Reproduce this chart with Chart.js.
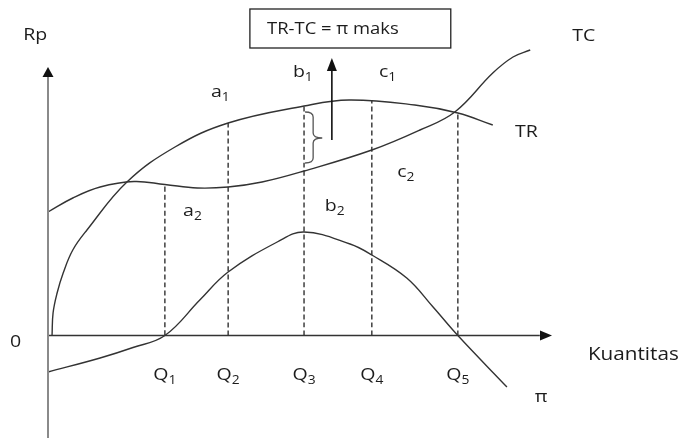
<!DOCTYPE html>
<html>
<head>
<meta charset="utf-8">
<script src="https://cdn.jsdelivr.net/npm/chart.js@4.4.1/dist/chart.umd.min.js"></script>
<style>
  html, body { margin: 0; padding: 0; background: #fff; }
  #wrap { position: relative; width: 681px; height: 438px; }
</style>
</head>
<body>
<div id="wrap"><canvas id="grafik"></canvas></div>
<script>
// jumlah (Q) pada sumbu mendatar
const kuantitas = [2.31, 3.56, 5.06, 6.4, 8.1];
const labelQ = ['Q1', 'Q2', 'Q3', 'Q4', 'Q5'];
// tinggi garis putus-putus (sampai kurva TC / TR)
const batasAtas = [6.02, 8.5, 9.18, 9.4, 8.9];

// kurva TR
const trX = [0.08, 0.1, 0.18, 0.3, 0.49, 0.77, 1.56, 2.51, 3.56, 5.06, 5.95, 7.25, 8.1, 8.79];
const trY = [0, 0.9, 1.7, 2.5, 3.42, 4.22, 6.14, 7.54, 8.5, 9.18, 9.42, 9.22, 8.9, 8.42];

// kurva TC
const tcX = [0, 0.49, 1.03, 1.7, 2.31, 2.95, 3.56, 4.23, 5.06, 6.4, 7.35, 8.04, 8.79, 9.19, 9.53];
const tcY = [4.94, 5.5, 5.94, 6.16, 6.04, 5.9, 5.94, 6.14, 6.58, 7.42, 8.22, 8.94, 10.5, 11.14, 11.42];

// kurva laba (pi)
const piX = [0, 1.03, 1.68, 2.31, 3.0, 3.56, 4.53, 5.06, 5.97, 6.4, 7.09, 7.61, 8.1, 9.07];
const piY = [-1.46, -0.9, -0.48, 0, 1.42, 2.54, 3.74, 4.14, 3.66, 3.22, 2.3, 1.14, 0, -2.06];

// batas skala (satuan diagram)
const X_MIN = -48 / 50.6, X_MAX = X_MIN + 681 / 50.6;
const Y_MAX = 335.5 / 25, Y_MIN = Y_MAX - 438 / 25;

const WARNA_KURVA = '#333';
const WARNA_TEKS = '#1c1c1c';
const FONT = '"Open Sans", sans-serif';
const LEBAR = 1.15; // teks asli sedikit melebar

const titik = (xs, ys) => xs.map((v, i) => ({ x: v, y: ys[i] }));

function garis(data, warna, tebal, dash) {
    return {
        data: data,
        borderColor: warna,
        borderWidth: tebal,
        borderDash: dash || [],
        pointRadius: 0,
        fill: false,
        clip: false,
        tension: 0.4
    };
}

const datasets = [
    garis([{ x: 0, y: Y_MIN }, { x: 0, y: 10.34 }], '#8a8a8a', 2),
    garis([{ x: 0, y: 0 }, { x: 9.72, y: 0 }], '#333', 1.6),
    garis(titik(trX, trY), WARNA_KURVA, 1.4),
    garis(titik(tcX, tcY), WARNA_KURVA, 1.4),
    garis(titik(piX, piY), WARNA_KURVA, 1.4)
];
kuantitas.forEach(function(q, i) {
    datasets.push(garis([{ x: q, y: 0 }, { x: q, y: batasAtas[i] }], '#222', 1.3, [5, 3]));
});

// label: [teks, subskrip, x, y(baseline)]
const label = [
    ['Rp', '', -0.49, 11.82],
    ['TC', '', 10.36, 11.78],
    ['TR', '', 9.23, 7.94],
    ['a', '1', 3.22, 9.54],
    ['b', '1', 4.84, 10.34],
    ['c', '1', 6.54, 10.34],
    ['c', '2', 6.9, 6.34],
    ['a', '2', 2.67, 4.78],
    ['b', '2', 5.47, 4.98],
    ['0', '', -0.75, -0.46],
    ['Kuantitas', '', 10.67, -0.98],
    ['\u03c0', '', 9.62, -2.66]
];

const diagram = {
    id: 'diagram',
    afterDatasetsDraw(chart) {
        const { ctx, scales: { x, y } } = chart;
        const px = v => x.getPixelForValue(v);
        const py = v => y.getPixelForValue(v);

        function teks(str, sub, xv, yv, ukuran, tengah) {
            ctx.save();
            ctx.fillStyle = WARNA_TEKS;
            ctx.font = ukuran + 'px ' + FONT;
            const w1 = ctx.measureText(str).width;
            ctx.font = Math.round(ukuran * 0.7) + 'px ' + FONT;
            const w2 = sub ? ctx.measureText(sub).width : 0;
            let x0 = px(xv);
            if (tengah) x0 -= (w1 + w2) * LEBAR / 2;
            ctx.translate(x0, py(yv));
            ctx.scale(LEBAR, 1);
            ctx.textBaseline = 'alphabetic';
            ctx.font = ukuran + 'px ' + FONT;
            ctx.fillText(str, 0, 0);
            if (sub) {
                ctx.font = Math.round(ukuran * 0.7) + 'px ' + FONT;
                ctx.fillText(sub, w1, 4);
            }
            ctx.restore();
        }

        function panah(xt, yt, arah, panjang, lebar) {
            ctx.beginPath();
            if (arah === 'atas') {
                ctx.moveTo(xt, yt);
                ctx.lineTo(xt - lebar, yt + panjang);
                ctx.lineTo(xt + lebar, yt + panjang);
            } else {
                ctx.moveTo(xt, yt);
                ctx.lineTo(xt - panjang, yt - lebar);
                ctx.lineTo(xt - panjang, yt + lebar);
            }
            ctx.closePath();
            ctx.fill();
        }

        ctx.save();
        ctx.fillStyle = '#111';
        // ujung sumbu
        panah(px(0), py(10.74), 'atas', 10, 5.5);
        panah(px(9.96), py(0), 'kanan', 12, 5);

        // panah ke kotak
        ctx.strokeStyle = '#111';
        ctx.lineWidth = 1.6;
        ctx.beginPath();
        ctx.moveTo(px(5.61), py(7.82));
        ctx.lineTo(px(5.61), py(10.6));
        ctx.stroke();
        panah(px(5.61), py(11.1), 'atas', 13, 5);

        // kurung kurawal
        const L = px(5.08), M = px(5.24), T = px(5.42);
        const yA = py(8.94), yT = py(7.9), yB = py(6.9);
        ctx.strokeStyle = '#555';
        ctx.lineWidth = 1.3;
        ctx.beginPath();
        ctx.moveTo(L, yA);
        ctx.quadraticCurveTo(M, yA, M, yA + 5);
        ctx.lineTo(M, yT - 5);
        ctx.quadraticCurveTo(M, yT, T, yT);
        ctx.quadraticCurveTo(M, yT, M, yT + 5);
        ctx.lineTo(M, yB - 5);
        ctx.quadraticCurveTo(M, yB, L, yB);
        ctx.stroke();

        // kotak keterangan
        ctx.strokeStyle = '#222';
        ctx.lineWidth = 1.3;
        ctx.strokeRect(px(3.99), py(13.06), px(7.96) - px(3.99), py(11.5) - py(13.06));
        ctx.restore();

        teks('TR-TC = \u03c0 maks', '', 4.33, 12.06, 16, false);
        label.forEach(l => teks(l[0], l[1], l[2], l[3], l[0] === 'Kuantitas' ? 18 : 17, false));
        kuantitas.forEach((q, i) => teks(labelQ[i].charAt(0), labelQ[i].slice(1), q, -1.78, 17, true));
    }
};

document.addEventListener('DOMContentLoaded', function() {
    const el = document.getElementById('grafik');
    new Chart(el.getContext('2d'), {
        type: 'line',
        data: { datasets: datasets },
        options: {
            responsive: true,
            maintainAspectRatio: false,
            animation: false,
            layout: { padding: 0 },
            plugins: {
                legend: { display: false },
                tooltip: { enabled: false }
            },
            scales: {
                x: { type: 'linear', display: false, min: X_MIN, max: X_MAX },
                y: { type: 'linear', display: false, min: Y_MIN, max: Y_MAX }
            }
        },
        plugins: [diagram]
    });
});
</script>
</body>
</html>
